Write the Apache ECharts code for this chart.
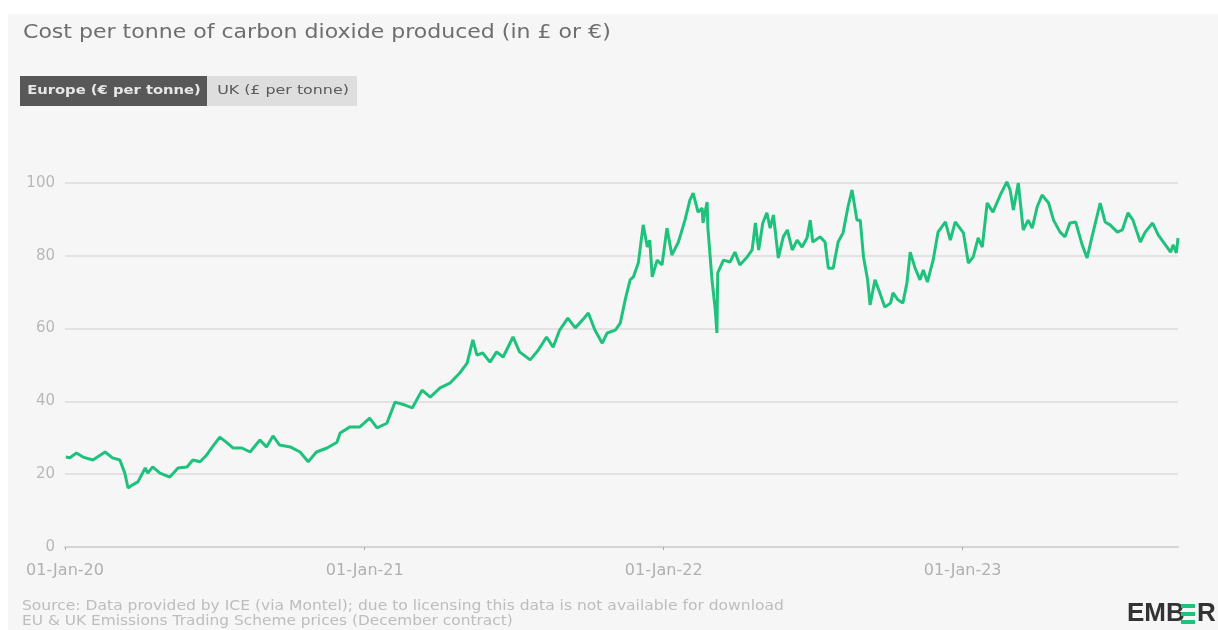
<!DOCTYPE html>
<html>
<head>
<meta charset="utf-8">
<script src="https://cdn.jsdelivr.net/npm/echarts@6/dist/echarts.min.js"></script>
<style>
  html, body { margin: 0; padding: 0; background: #ffffff; }
  #chart { width: 1218px; height: 630px; }
</style>
</head>
<body>
<div id="chart"></div>
<script>
// EU ETS carbon price (December contract), € per tonne
const dates = [
  '2020-01-02','2020-01-07','2020-01-15','2020-01-23','2020-02-04','2020-02-19','2020-02-28','2020-03-08','2020-03-14','2020-03-18',
  '2020-03-23','2020-03-30','2020-04-08','2020-04-11','2020-04-17','2020-04-26','2020-05-08','2020-05-18','2020-05-29','2020-06-05',
  '2020-06-14','2020-06-22','2020-06-29','2020-07-08','2020-07-17','2020-07-24','2020-08-04','2020-08-14','2020-08-26','2020-09-03',
  '2020-09-11','2020-09-19','2020-10-02','2020-10-14','2020-10-24','2020-11-03','2020-11-16','2020-11-28','2020-12-02','2020-12-14',
  '2020-12-26','2021-01-07','2021-01-16','2021-01-28','2021-02-07','2021-02-19','2021-02-28','2021-03-12','2021-03-22','2021-04-03',
  '2021-04-15','2021-04-27','2021-05-06','2021-05-13','2021-05-18','2021-05-25','2021-06-03','2021-06-11','2021-06-19','2021-07-01',
  '2021-07-09','2021-07-22','2021-08-01','2021-08-11','2021-08-19','2021-08-27','2021-09-06','2021-09-15','2021-09-24','2021-10-01',
  '2021-10-09','2021-10-18','2021-10-24','2021-11-03','2021-11-09','2021-11-15','2021-11-21','2021-11-25','2021-12-01','2021-12-07',
  '2021-12-12','2021-12-15','2021-12-18','2021-12-24','2021-12-30','2022-01-05','2022-01-11','2022-01-19','2022-01-27','2022-02-02',
  '2022-02-06','2022-02-12','2022-02-17','2022-02-18','2022-02-23','2022-02-24','2022-03-01','2022-03-05','2022-03-07','2022-03-08',
  '2022-03-15','2022-03-23','2022-03-29','2022-04-04','2022-04-13','2022-04-19','2022-04-23','2022-04-27','2022-05-02','2022-05-07',
  '2022-05-11','2022-05-15','2022-05-21','2022-05-27','2022-06-01','2022-06-07','2022-06-13','2022-06-19','2022-06-25','2022-06-29',
  '2022-07-02','2022-07-11','2022-07-17','2022-07-21','2022-07-27','2022-08-02','2022-08-08','2022-08-14','2022-08-19','2022-08-25',
  '2022-08-29','2022-09-02','2022-09-07','2022-09-10','2022-09-16','2022-09-22','2022-09-28','2022-10-05','2022-10-08','2022-10-14',
  '2022-10-20','2022-10-25','2022-10-29','2022-11-04','2022-11-10','2022-11-14','2022-11-19','2022-11-26','2022-12-02','2022-12-11',
  '2022-12-17','2022-12-23','2023-01-02','2023-01-08','2023-01-14','2023-01-20','2023-01-25','2023-01-31','2023-02-07','2023-02-16',
  '2023-02-24','2023-02-28','2023-03-04','2023-03-10','2023-03-16','2023-03-22','2023-03-27','2023-04-02','2023-04-08','2023-04-16',
  '2023-04-22','2023-04-30','2023-05-06','2023-05-12','2023-05-19','2023-05-27','2023-06-02','2023-06-08','2023-06-18','2023-06-24',
  '2023-06-30','2023-07-09','2023-07-15','2023-07-22','2023-07-28','2023-08-06','2023-08-12','2023-08-21','2023-08-28','2023-09-03',
  '2023-09-12','2023-09-15','2023-09-19','2023-09-21'
];
const prices = [
  24.7,24.5,25.8,24.7,23.9,26.1,24.5,23.9,20.3,16.2,
  17.0,17.9,21.7,20.3,22.0,20.3,19.2,21.7,22.0,23.9,
  23.4,25.3,27.5,30.2,28.6,27.2,27.2,26.1,29.4,27.5,
  30.5,28.0,27.5,26.1,23.4,26.1,27.2,28.8,31.3,33.0,
  33.0,35.4,32.7,34.0,39.8,39.0,38.2,43.1,41.2,43.7,
  45.0,47.8,50.5,56.9,52.7,53.3,50.8,53.6,52.2,57.7,
  53.6,51.4,54.1,57.7,54.9,59.6,62.9,60.2,62.4,64.3,
  59.6,56.0,58.8,59.6,61.5,67.9,73.4,74.2,78.0,88.5,
  82.4,84.3,74.2,78.8,77.5,87.6,80.2,83.8,89.8,95.3,
  97.2,92.0,93.1,89.0,94.8,87.6,73.4,65.1,58.8,75.3,
  78.8,78.3,81.0,77.5,79.7,81.6,89.0,81.6,89.0,91.8,
  87.6,91.2,79.4,85.2,87.1,81.6,84.3,82.4,84.9,89.8,
  83.8,85.2,83.8,76.6,76.6,83.8,86.3,93.4,98.1,89.8,
  89.8,79.7,73.4,66.5,73.4,69.8,65.9,67.0,69.8,67.9,
  67.0,72.5,81.0,76.6,73.4,76.1,72.8,78.8,86.5,89.3,
  84.3,89.3,86.3,78.0,79.7,84.9,82.4,94.5,92.0,96.7,
  100.3,98.1,92.6,100.0,87.1,89.8,87.6,93.4,96.7,94.5,
  89.8,86.5,85.2,89.0,89.3,83.0,79.4,85.2,94.5,89.3,
  88.5,86.5,87.1,91.8,89.8,83.8,86.5,89.0,85.7,83.8,
  81.0,83.0,80.8,84.9
];

const axisStart = '2020-01-01';
const axisEnd = '2023-09-21';
const yMin = 0, yMax = 100, yStep = 20;

const titleText = 'Cost per tonne of carbon dioxide produced (in £ or €)';
const tabLabels = ['Europe (€ per tonne)', 'UK (£ per tonne)'];
const sourceLines = [
  'Source: Data provided by ICE (via Montel); due to licensing this data is not available for download',
  'EU & UK Emissions Trading Scheme prices (December contract)'
];
const MONTHS = ['Jan','Feb','Mar','Apr','May','Jun','Jul','Aug','Sep','Oct','Nov','Dec'];

const FONT = '"DejaVu Sans", Inter, sans-serif';
const LOGO_FONT = '"Liberation Sans", Arial, sans-serif';
const GREEN = '#1fc27d';

function fmtDate(v) {
  const d = new Date(v);
  const dd = String(d.getDate()).padStart(2, '0');
  const yy = String(d.getFullYear()).slice(2);
  return dd + '-' + MONTHS[d.getMonth()] + '-' + yy;
}

const series = dates.map((d, i) => [d, prices[i]]);
const DAY_MS = 24 * 3600 * 1000;

const chart = echarts.init(document.getElementById('chart'), null, { renderer: 'canvas' });

chart.setOption({
  backgroundColor: '#ffffff',
  animation: false,
  textStyle: { fontFamily: FONT },
  grid: { left: 65, right: 40, top: 183, bottom: 83, containLabel: false },
  xAxis: {
    type: 'time',
    min: axisStart,
    max: axisEnd,
    minInterval: 365 * DAY_MS,
    maxInterval: 366 * DAY_MS,
    splitNumber: 3,
    axisLine: { show: true, lineStyle: { color: '#d4d4d4', width: 2 } },
    axisTick: { show: true, length: 3, lineStyle: { color: '#aaaaaa', width: 1 } },
    splitLine: { show: false },
    axisLabel: {
      formatter: fmtDate,
      color: '#b0b0b0',
      fontSize: 16,
      margin: 16,
      fontFamily: FONT,
      hideOverlap: false
    }
  },
  yAxis: {
    type: 'value',
    min: yMin,
    max: yMax,
    interval: yStep,
    axisLine: { show: false },
    axisTick: { show: false },
    splitLine: { lineStyle: { color: '#e2e2e2', width: 2 } },
    axisLabel: { color: '#b8b8b8', fontSize: 15, margin: 10, fontFamily: FONT }
  },
  series: [{
    type: 'line',
    name: tabLabels[0],
    data: series,
    showSymbol: false,
    clip: false,
    lineStyle: { color: GREEN, width: 3 },
    itemStyle: { color: GREEN },
    z: 5
  }],
  graphic: {
    elements: [
      // page panel
      { type: 'rect', z: -100, shape: { x: 8, y: 14, width: 1210, height: 616 }, style: { fill: '#f6f6f6' }, silent: true },
      // heading
      { type: 'text', x: 23, y: 33, scaleX: 1.13, style: { text: titleText, fill: '#6e6e6e', font: '19.5px ' + FONT, textVerticalAlign: 'middle' } },
      // tabs
      { type: 'rect', shape: { x: 20, y: 76, width: 187, height: 30 }, style: { fill: '#585858' } },
      { type: 'text', x: 114, y: 91, scaleX: 1.18, style: { text: tabLabels[0], fill: '#e8e8e8', font: 'bold 12.5px ' + FONT, textAlign: 'center', textVerticalAlign: 'middle' } },
      { type: 'rect', shape: { x: 207, y: 76, width: 150, height: 30 }, style: { fill: '#dedede' } },
      { type: 'text', x: 283, y: 91, scaleX: 1.22, style: { text: tabLabels[1], fill: '#5a5a5a', font: '13px ' + FONT, textAlign: 'center', textVerticalAlign: 'middle' } },
      // source notes
      { type: 'text', x: 22, y: 606, scaleX: 1.11, style: { text: sourceLines[0], fill: '#bdbdbd', font: '14px ' + FONT, textVerticalAlign: 'middle' } },
      { type: 'text', x: 22, y: 621, scaleX: 1.1, style: { text: sourceLines[1], fill: '#bdbdbd', font: '14px ' + FONT, textVerticalAlign: 'middle' } },
      // wordmark
      { type: 'text', x: 1127, y: 614, style: { text: 'EMB', fill: '#333333', font: 'bold 26px ' + LOGO_FONT, textVerticalAlign: 'middle' } },
      { type: 'rect', shape: { x: 1181, y: 604, width: 14, height: 4 }, style: { fill: GREEN } },
      { type: 'rect', shape: { x: 1181, y: 612, width: 14, height: 4 }, style: { fill: GREEN } },
      { type: 'rect', shape: { x: 1181, y: 620, width: 14, height: 4 }, style: { fill: GREEN } },
      { type: 'text', x: 1197, y: 614, style: { text: 'R', fill: '#333333', font: 'bold 26px ' + LOGO_FONT, textVerticalAlign: 'middle' } }
    ]
  }
});
</script>
</body>
</html>
